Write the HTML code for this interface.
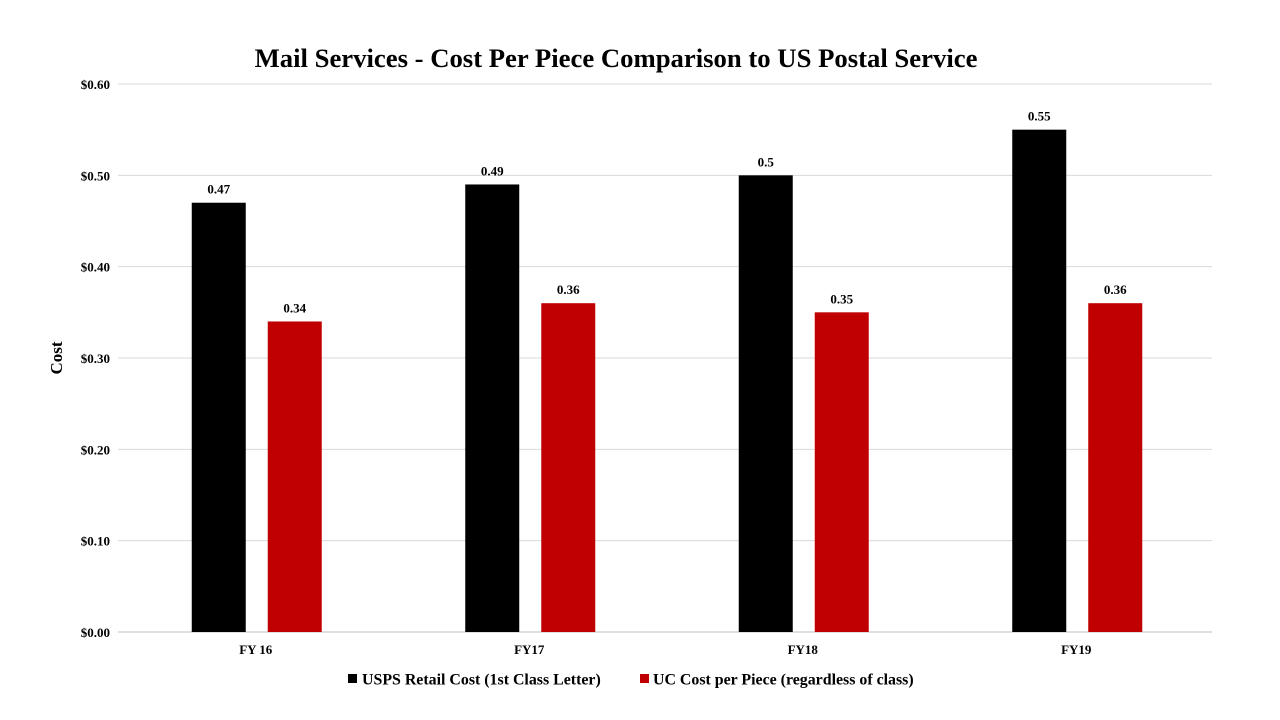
<!DOCTYPE html>
<html><head><meta charset="utf-8"><style>
body{margin:0;background:#fff;}
svg{display:block;font-family:"Liberation Serif",serif;font-weight:bold;}
</style></head><body>
<svg id="chart" width="1280" height="720">
<text x="616" y="67" text-anchor="middle" font-size="26.7">Mail Services - Cost Per Piece Comparison to US Postal Service</text>
<text transform="translate(62,358) rotate(-90)" text-anchor="middle" font-size="17">Cost</text>
<g id="grid"></g><g id="bars"></g><g id="labels"></g>
<g>
<rect x="348" y="674" width="9" height="9" fill="#000"></rect>
<text x="362" y="684.5" font-size="15.9">USPS Retail Cost (1st Class Letter)</text>
<rect x="640" y="674" width="9" height="9" fill="#c00000"></rect>
<text x="653" y="684.5" font-size="15.9">UC Cost per Piece (regardless of class)</text>
</g>
</svg>
<script>
const categories=["FY 16","FY17","FY18","FY19"];
const uspsValues=[0.47,0.49,0.5,0.55];
const ucValues=[0.34,0.36,0.35,0.36];
const yTicks=[0,0.1,0.2,0.3,0.4,0.5,0.6];
const yTickLabels=["$0.00","$0.10","$0.20","$0.30","$0.40","$0.50","$0.60"];
const NS="http://www.w3.org/2000/svg";
const x0=120,x1=1214,yBase=632,yTop=84;
const y=v=>yBase-(v/0.6)*(yBase-yTop);
const bandW=(x1-x0)/categories.length;
const cx=i=>x0+bandW*(i+0.5);
function mk(tag,attrs,parent,txt){const e=document.createElementNS(NS,tag);for(const k in attrs)e.setAttribute(k,attrs[k]);if(txt!==undefined)e.textContent=txt;document.getElementById(parent).appendChild(e);return e;}
yTicks.forEach((t,i)=>{
 const l=mk("line",{x1:118,x2:1212,y1:y(t),y2:y(t),stroke:i===0?"#bfbfbf":"#d9d9d9","stroke-width":1},"grid");
 
 
 const tx=mk("text",{x:110,y:y(t)+5,"text-anchor":"end","font-size":13},"grid",yTickLabels[i]);
 
 
});
const bw=54,gap=22;
categories.forEach((c,i)=>{
 const xt=mk("text",{x:cx(i)-1,y:654,"text-anchor":"middle","font-size":13},"labels",c);
 
 
 [[uspsValues,"#000",-1,"usps"],[ucValues,"#c00000",1,"uc"]].forEach(([arr,col,side,nm])=>{
  const bx=side<0?cx(i)-gap/2-bw:cx(i)+gap/2;
  const r=mk("rect",{x:bx,y:y(arr[i]),width:bw,height:yBase-y(arr[i]),fill:col},"bars");
  
  
  const dl=mk("text",{x:bx+bw/2,y:y(arr[i])-9,"text-anchor":"middle","font-size":13},"labels",String(arr[i]));
  
  
 });
});
</script>
</body></html>
